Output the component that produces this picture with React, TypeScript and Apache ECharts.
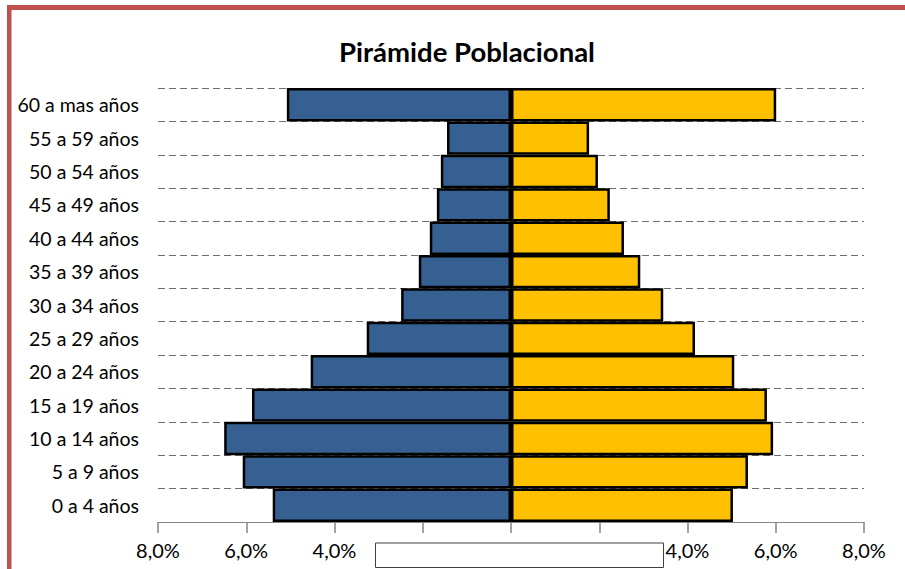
import React, { useEffect, useRef } from "react";
import * as echarts from "echarts";

const categories = [
  "0 a 4 años",
  "5 a 9 años",
  "10 a 14 años",
  "15 a 19 años",
  "20 a 24 años",
  "25 a 29 años",
  "30 a 34 años",
  "35 a 39 años",
  "40 a 44 años",
  "45 a 49 años",
  "50 a 54 años",
  "55 a 59 años",
  "60 a mas años",
];

// Left side (blue), percent
const hombres = [5.4, 6.08, 6.5, 5.87, 4.54, 3.27, 2.49, 2.09, 1.84, 1.68, 1.59, 1.45, 5.08];
// Right side (yellow), percent
const mujeres = [5.03, 5.37, 5.94, 5.8, 5.06, 4.17, 3.45, 2.93, 2.56, 2.24, 1.97, 1.77, 6.01];

const FONT = "Lato, 'Open Sans', sans-serif";

export default function App() {
  const ref = useRef<HTMLDivElement>(null);

  useEffect(() => {
    if (!ref.current) return;
    const chart = echarts.init(ref.current, undefined, { renderer: "svg" });
    chart.setOption({
      animation: false,
      backgroundColor: "#ffffff",
      title: {
        text: "Pirámide Poblacional",
        left: 462,
        top: 32,
        textAlign: "center",
        textStyle: {
          fontFamily: FONT,
          fontSize: 27.5,
          fontWeight: "bold",
          color: "#000000",
        },
      },
      grid: { left: 158, right: 41, top: 88, bottom: 47, containLabel: false },
      xAxis: {
        type: "value",
        min: -8,
        max: 8,
        interval: 2,
        axisLine: { show: true, lineStyle: { color: "#868686", width: 1 } },
        axisTick: { show: true, length: 11, lineStyle: { color: "#868686", width: 1.5 } },
        splitLine: { show: false },
        axisLabel: {
          margin: 18,
          fontFamily: FONT,
          fontSize: 20,
          color: "#000000",
          formatter: (v: number) => Math.abs(v).toFixed(1).replace(".", ",") + "%",
        },
      },
      yAxis: {
        type: "category",
        data: categories,
        axisLine: { show: false },
        axisTick: { show: false },
        splitLine: {
          show: true,
          lineStyle: { color: "#6e6e6e", type: [7, 4], width: 1.2 },
        },
        axisLabel: {
          margin: 19,
          fontFamily: FONT,
          fontSize: 19.5,
          color: "#000000",
        },
      },
      series: [
        {
          name: "Hombres",
          type: "bar",
          stack: "total",
          barCategoryGap: 0,
          data: hombres.map((v) => -v),
          itemStyle: { color: "#376092", borderColor: "#000000", borderWidth: 2.5 },
        },
        {
          name: "Mujeres",
          type: "bar",
          stack: "total",
          barCategoryGap: 0,
          data: mujeres,
          itemStyle: { color: "#FFC000", borderColor: "#000000", borderWidth: 2.5 },
        },
      ],
      graphic: [
        {
          type: "rect",
          shape: { x: 7, y: 5, width: 898, height: 5 },
          style: { fill: "#C0504D" },
          silent: true,
        },
        {
          type: "rect",
          shape: { x: 7, y: 5, width: 4.5, height: 564 },
          style: { fill: "#C0504D" },
          silent: true,
        },
        {
          type: "rect",
          shape: { x: 375.5, y: 543, width: 288, height: 24.5 },
          style: { fill: "#ffffff", stroke: "#404040", lineWidth: 1 },
          z: 100,
          silent: true,
        },
      ],
    });
    return () => chart.dispose();
  }, []);

  return (
    <div
      ref={ref}
      style={{ position: "fixed", left: 0, top: 0, width: 905, height: 569 }}
    />
  );
}
